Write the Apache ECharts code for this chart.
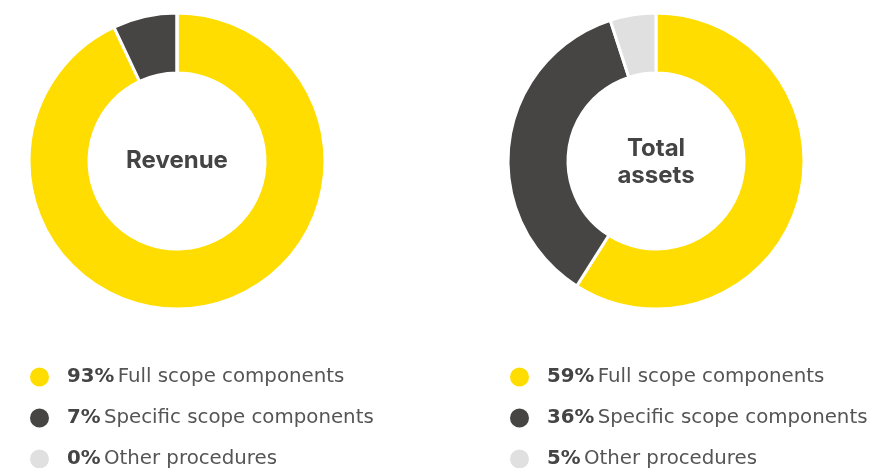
<!DOCTYPE html>
<html><head><meta charset="utf-8">
<script src="https://cdn.jsdelivr.net/npm/echarts@6/dist/echarts.min.js"></script>
<style>html,body{margin:0;padding:0;background:#fff}#c{width:874px;height:468px}</style>
</head><body><div id="c"></div>
<script>
const categories = ['Full scope components', 'Specific scope components', 'Other procedures'];
const revenueValues = [93, 7, 0];
const assetsValues = [59, 36, 5];
const chartTitles = ['Revenue', 'Total\nassets'];
const colors = ['#FFDD00', '#464544', '#E0E0E0'];
const FONT = '"DejaVu Sans"';
const TFONT = 'Inter';

const chart = echarts.init(document.getElementById('c'));
function pieData(vals) { return categories.map((n, i) => ({ name: n, value: vals[i] })); }
function legend(left, vals) {
  return {
    orient: 'vertical', left: left, top: 365.5, height: 110, padding: 0,
    itemWidth: 21, itemHeight: 21, itemGap: 18,
    icon: 'circle', selectedMode: false,
    formatter: name => '{b|' + vals[categories.indexOf(name)] + '%} {n|' + name + '}',
    textStyle: {
      padding: [0, 0, 0, 12],
      rich: {
        b: { fontFamily: FONT, fontWeight: 700, fontSize: 19.8, color: '#444', lineHeight: 21 },
        n: { fontFamily: FONT, fontWeight: 400, fontSize: 19.8, color: '#555', lineHeight: 21 }
      }
    },
    data: categories
  };
}
function pie(cx, vals) {
  return {
    type: 'pie', center: [cx, 161], radius: [88, 148], startAngle: 90, clockwise: true,
    silent: true, label: { show: false }, labelLine: { show: false },
    itemStyle: { borderColor: '#fff', borderWidth: 3 },
    emphasis: { disabled: true },
    data: pieData(vals)
  };
}
chart.setOption({
  animation: false,
  color: colors,
  legend: [legend(28, revenueValues), legend(508, assetsValues)],
  graphic: [
    { type: 'text', x: 177, y: 161, style: { text: chartTitles[0], align: 'center', verticalAlign: 'middle', fontFamily: TFONT, fontWeight: 700, fontSize: 24, fill: '#444', lineHeight: 27 } },
    { type: 'text', x: 656, y: 162, style: { text: chartTitles[1], align: 'center', verticalAlign: 'middle', fontFamily: TFONT, fontWeight: 700, fontSize: 24, fill: '#444', lineHeight: 27 } }
  ],
  series: [pie(177, revenueValues), pie(656, assetsValues)]
});
</script></body></html>
